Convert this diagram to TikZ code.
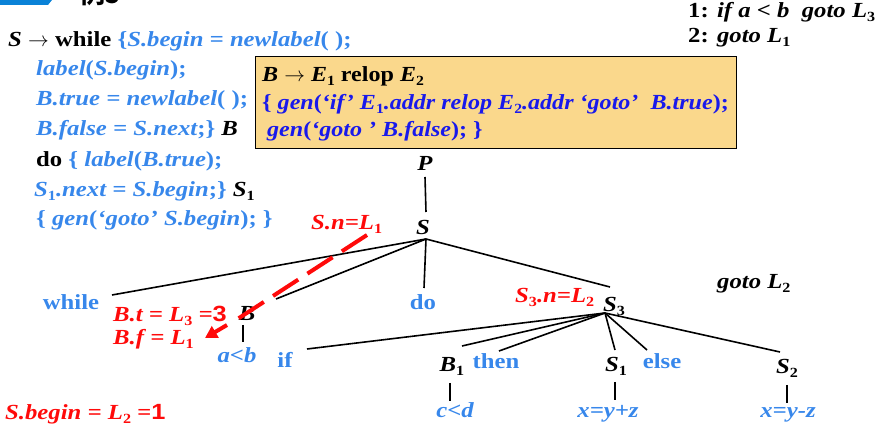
\documentclass[tikz,border=0pt]{standalone}
\usepackage{fontspec}
\setmainfont[FakeStretch=1.15]{Liberation Serif}
\newfontfamily\boxf[FakeStretch=1.12]{Liberation Serif}
\newfontfamily\sansf[FakeStretch=1.15]{Liberation Sans}
\newfontfamily\cjk{Noto Sans CJK SC}
\usetikzlibrary{arrows.meta}
\definecolor{lblue}{RGB}{55,135,235}
\definecolor{dblue}{RGB}{25,25,235}
\definecolor{boxfill}{RGB}{250,216,140}
\definecolor{banner}{RGB}{10,130,215}
\definecolor{myred}{RGB}{255,10,10}
\newcommand\lsub[1]{\raisebox{-0.32ex}{\fontsize{14}{14}\selectfont\upshape #1}}
\newcommand\bignum[1]{{\sansf\upshape\fontsize{22}{22}\selectfont #1}}
\begin{document}
\begin{tikzpicture}[x=1pt,y=-1pt,
  every node/.style={inner sep=0pt, font=\fontsize{21.5}{30}\selectfont\bfseries},
  txt/.style={anchor=base west},
  boxtxt/.style={anchor=base west, font=\boxf\fontsize{21.5}{30}\selectfont\bfseries},
  tnode/.style={anchor=base},
  kw/.style={anchor=base, text=lblue},
  leaf/.style={anchor=base, text=lblue, font=\fontsize{21.5}{30}\selectfont\bfseries\itshape},
  redtxt/.style={anchor=base west, text=myred, font=\fontsize{21.5}{30}\selectfont\bfseries\itshape},
  treeline/.style={line width=1.6pt, black},
  redline/.style={line width=4pt, myred}]
\useasboundingbox (0,0) rectangle (879,430);
\clip (0,0) rectangle (879,430);
% banner fragment
\fill[banner] (0,0) -- (52,0) -- (48,5) -- (0,5) -- cycle;
\node[anchor=base west, font=\cjk\bfseries\fontsize{25}{25}\selectfont] (title) at (80,4) {例5};
% left block
\node[txt] (l1) at (8,47) {\itshape S \upshape$\rightarrow$ while \color{lblue}\{\itshape S.begin = newlabel\upshape( );};
\node[txt, text=lblue] (l2) at (36,76) {\itshape label\upshape(\itshape S.begin\upshape);};
\node[txt, text=lblue] (l3) at (36,106) {\itshape B.true = newlabel\upshape( );};
\node[txt, text=lblue] (l4) at (36,136) {\itshape B.false = S.next\upshape;\} \color{black}\itshape B};
\node[txt] (l5) at (36,167) {do \color{lblue}\{ \itshape label\upshape(\itshape B.true\upshape);};
\node[txt, text=lblue] (l6) at (34,197) {\itshape S\lsub{1}.next = S.begin\upshape;\} \color{black}\itshape S\lsub{1}};
\node[txt, text=lblue] (l7) at (36,226) {\{ \itshape gen\upshape(\itshape‘goto’ S.begin\upshape); \}};
% yellow box
\node[draw, fill=boxfill, line width=1pt, minimum width=481pt, minimum height=92pt, anchor=north west] (box) at (255,56) {};
\node[boxtxt] (b1) at (262,82) {\itshape B \upshape$\rightarrow$ \itshape E\lsub{1} \upshape relop \itshape E\lsub{2}};
\node[boxtxt, text=dblue] (b2) at (262,110) {\{ \itshape gen\upshape(\itshape‘if’ E\lsub{1}.addr relop E\lsub{2}.addr ‘goto’\ \ B.true\upshape);};
\node[boxtxt, text=dblue] (b3) at (267,137) {\itshape gen\upshape(\itshape‘goto ’ B.false\upshape); \}};
% top right
\node[txt] (tr1) at (688,18) {1: \itshape if a < b\ \ goto L\lsub{3}};
\node[txt] (tr2) at (688,43) {2: \itshape goto L\lsub{1}};
% tree nodes
\node[tnode] (P) at (425,171) {\itshape P};
\node[tnode] (S) at (423,235) {\itshape S};
\node[kw] (while) at (71,310) {while};
\node[tnode] (B) at (247,321) {\itshape B};
\node[kw] (do) at (423,310) {do};
\node[tnode] (S3) at (614,312) {\itshape S\lsub{3}};
\node[kw] (if) at (285,368) {if};
\node[tnode] (B1) at (452,372) {\itshape B\lsub{1}};
\node[kw] (then) at (496,369) {then};
\node[tnode] (S1) at (616,372) {\itshape S\lsub{1}};
\node[kw] (else) at (662,369) {else};
\node[tnode] (S2) at (787,374) {\itshape S\lsub{2}};
\node[leaf] (ab) at (237,363) {a<b};
\node[leaf] (cd) at (455,418) {c<d};
\node[leaf] (xpz) at (608,418) {x=y+z};
\node[leaf] (xmz) at (788,418) {x=y-z};
\node[txt] (gotoL2) at (717,289) {\itshape goto L\lsub{2}};
% red annotations
\node[redtxt] (Sn) at (311,230) {S.n=L\lsub{1}};
\node[redtxt] (S3n) at (515,303) {S\lsub{3}.n=L\lsub{2}};
\node[redtxt] (Bt) at (113,322) {B.t = L\lsub{3} =\bignum{3}};
\node[redtxt] (Bf) at (113,345) {B.f = L\lsub{1}};
\node[redtxt] (Sb) at (5,420) {S.begin = L\lsub{2} =\bignum{1}};
% tree coordinates
\coordinate (Pb) at (425,177);
\coordinate (St) at (426,212);
\coordinate (Sa) at (426,239);
\coordinate (wE) at (112,295);
\coordinate (bE) at (276,299);
\coordinate (dE) at (424,288);
\coordinate (s3E) at (610,287);
\coordinate (S3a) at (605,313);
\coordinate (ifE) at (307,349);
\coordinate (b1E) at (462,346);
\coordinate (thE) at (499,351);
\coordinate (s1E) at (615,350);
\coordinate (elE) at (647,350);
\coordinate (s2E) at (780,352);
\draw[treeline] (Pb) -- (St);
\draw[treeline] (Sa) -- (wE);
\draw[treeline] (Sa) -- (bE);
\draw[treeline] (Sa) -- (dE);
\draw[treeline] (Sa) -- (s3E);
\draw[treeline] (S3a) -- (ifE);
\draw[treeline] (S3a) -- (b1E);
\draw[treeline] (S3a) -- (thE);
\draw[treeline] (S3a) -- (s1E);
\draw[treeline] (S3a) -- (elE);
\draw[treeline] (S3a) -- (s2E);
\draw[treeline] (243,325) -- (243,342);
\draw[treeline] (450,383) -- (450,401);
\draw[treeline] (615,382) -- (615,400);
\draw[treeline] (787,385) -- (787,403);
% red dashed arrow
\coordinate (rd0) at (367,235);
\coordinate (rd1) at (236,320);
\coordinate (ra0) at (227,325);
\coordinate (ra1) at (205,338);
\draw[redline, dash pattern=on 30pt off 11pt] (rd0) -- (rd1);
\draw[redline, -{Triangle[length=12pt, width=13pt]}] (ra0) -- (ra1);
\end{tikzpicture}
\end{document}
